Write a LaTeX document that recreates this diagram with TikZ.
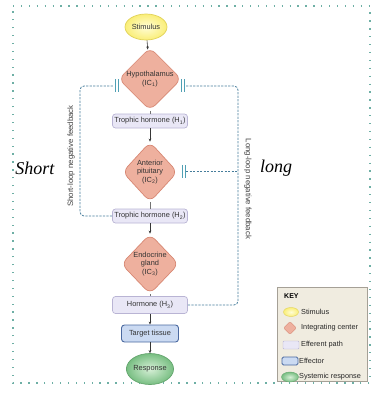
\documentclass[tikz,border=0pt]{standalone}
\usepackage{fontspec}
\setmainfont{Liberation Sans}
\newfontfamily\serifit{Liberation Serif}
\usetikzlibrary{shapes.geometric,arrows.meta}
\definecolor{dotc}{RGB}{110,175,165}
\definecolor{fbc}{RGB}{70,125,155}
\definecolor{barc}{RGB}{80,160,180}
\definecolor{dfill}{RGB}{238,176,158}
\definecolor{ddraw}{RGB}{215,135,115}
\definecolor{bfill}{RGB}{233,231,246}
\definecolor{bdraw}{RGB}{185,180,212}
\definecolor{tfill}{RGB}{203,218,242}
\definecolor{tdraw}{RGB}{75,105,160}
\definecolor{yin}{RGB}{255,253,215}
\definecolor{yout}{RGB}{250,238,120}
\definecolor{ydraw}{RGB}{225,210,90}
\definecolor{gin}{RGB}{215,240,215}
\definecolor{gout}{RGB}{120,190,130}
\definecolor{gdraw}{RGB}{100,165,110}
\definecolor{keyfill}{RGB}{240,236,224}
\definecolor{keydraw}{RGB}{165,160,150}
\definecolor{arr}{RGB}{55,55,55}
\tikzset{
  lbl/.style={font=\fontsize{7.4}{8.6}\selectfont, text=black!80},
  diam/.style={diamond, draw=ddraw, fill=dfill, line width=0.7pt, rounded corners=7pt,
    minimum width=55pt, minimum height=62pt, inner sep=0pt, align=center, lbl},
  pathbox/.style={rectangle, draw=bdraw, fill=bfill, line width=0.7pt, rounded corners=3pt,
    minimum width=75pt, minimum height=14pt, inner sep=0pt, lbl},
  effbox/.style={rectangle, draw=tdraw, fill=tfill, line width=0.9pt, rounded corners=3pt,
    minimum width=57pt, minimum height=17pt, inner sep=0pt, lbl},
  stimell/.style={ellipse, draw=ydraw, line width=0.7pt, inner color=yin, outer color=yout,
    minimum width=42pt, minimum height=26pt, inner sep=0pt, lbl},
  respell/.style={ellipse, draw=gdraw, line width=0.7pt, inner color=gin, outer color=gout,
    minimum width=47pt, minimum height=31pt, inner sep=0pt, lbl},
  flow/.style={draw=arr, line width=0.6pt, -{Stealth[length=3pt,width=2.6pt]}},
  plain/.style={draw=arr!70, line width=0.6pt},
  fb/.style={draw=fbc, line width=0.8pt, dash pattern=on 2.2pt off 1.3pt, rounded corners=4pt},
  barline/.style={draw=barc, line width=0.9pt},
  sidetxt/.style={font=\fontsize{7.8}{9}\selectfont, text=black!75},
  bigit/.style={font=\serifit\itshape\fontsize{18}{20}\selectfont},
  keytxt/.style={font=\fontsize{7.3}{8}\selectfont, text=black!85, anchor=west, inner sep=0pt},
}
\begin{document}
\begin{tikzpicture}[x=1pt,y=-1pt]
\useasboundingbox (0,0) rectangle (377,394);
% dotted border
\draw[dotc, line width=1.3pt, dash pattern=on 1.3pt off 6.6pt] (13,6) -- (370,6) -- (370,383) -- (13,383) -- cycle;

% main chain
\node[stimell] (stim) at (146,27) {Stimulus};
\node[diam] (hyp) at (150,79) {Hypothalamus\\(IC\textsubscript{1})};
\node[pathbox] (h1) at (150,121) {Trophic hormone (H\textsubscript{1})};
\node[diam, minimum height=60pt] (ap) at (150,172) {Anterior\\pituitary\\(IC\textsubscript{2})};
\node[pathbox] (h2) at (150,216) {Trophic hormone (H\textsubscript{2})};
\node[diam, minimum height=60pt] (eg) at (150,264) {Endocrine\\gland\\(IC\textsubscript{3})};
\node[pathbox, minimum height=17pt] (h3) at (150,305) {Hormone (H\textsubscript{3})};
\node[effbox] (tt) at (150,333.5) {Target tissue};
\node[respell] (resp) at (150,369) {Response};

\draw[flow] (stim) -- (hyp);
\draw[plain] (hyp) -- (h1);
\draw[flow] (h1) -- (ap);
\draw[plain] (ap) -- (h2);
\draw[flow] (h2) -- (eg);
\draw[plain] (eg) -- (h3);
\draw[flow] (h3) -- (tt);
\draw[flow] (tt) -- (resp);

% inhibition bars
\coordinate (lb) at (114,86);
\coordinate (rb) at (185,86);
\coordinate (ab) at (186,171);
\draw[barline] (115,79) -- (115,92) (118,79) -- (118,92);
\draw[barline] (181,79) -- (181,92) (184,79) -- (184,92);
\draw[barline] (182,165) -- (182,178) (185,165) -- (185,178);

% feedback loops
\coordinate (lx) at (80,0);
\coordinate (rx) at (238,0);
\draw[fb] (h2.west) -- (h2.west -| lx) -- (lb -| lx) -- (lb);
\draw[fb] (h3.east) -- (h3.east -| rx) -- (rb -| rx) -- (rb);
\draw[fb] (ab) -- (ab -| rx);

\node[sidetxt, rotate=90] (slt) at (71,156) {Short-loop negative feedback};
\node[sidetxt, rotate=-90] (llt) at (248,189) {Long-loop negative feedback};
\node[bigit] (sh) at (35,168) {Short};
\node[bigit] (lg) at (276,168) {long};

% key
\draw[draw=keydraw, fill=keyfill, line width=1pt] (277,287) rectangle (367,381);
\node[font=\bfseries\fontsize{7}{8}\selectfont, anchor=west, inner sep=0pt] (key) at (284,296) {KEY};
\node[ellipse, draw=ydraw, inner color=yin, outer color=yout, minimum width=15pt, minimum height=9pt, inner sep=0pt] (k1) at (291,312) {};
\node[diamond, draw=ddraw, fill=dfill, rounded corners=1.5pt, minimum width=13pt, minimum height=13pt, inner sep=0pt] (k2) at (290,328) {};
\node[rectangle, draw=bdraw, fill=bfill, rounded corners=1pt, minimum width=16pt, minimum height=8pt, inner sep=0pt] (k3) at (291,345) {};
\node[rectangle, draw=tdraw, fill=tfill, line width=0.8pt, rounded corners=1.5pt, minimum width=16pt, minimum height=8pt, inner sep=0pt] (k4) at (290,361) {};
\node[ellipse, draw=gdraw, inner color=gin, outer color=gout, minimum width=17pt, minimum height=10pt, inner sep=0pt] (k5) at (290,377) {};
\node[keytxt] (t1) at (301,312) {Stimulus};
\node[keytxt] (t2) at (301,328) {Integrating center};
\node[keytxt] (t3) at (301,345) {Efferent path};
\node[keytxt] (t4) at (299,361) {Effector};
\node[keytxt] (t5) at (299,377) {Systemic response};
\end{tikzpicture}
\end{document}
